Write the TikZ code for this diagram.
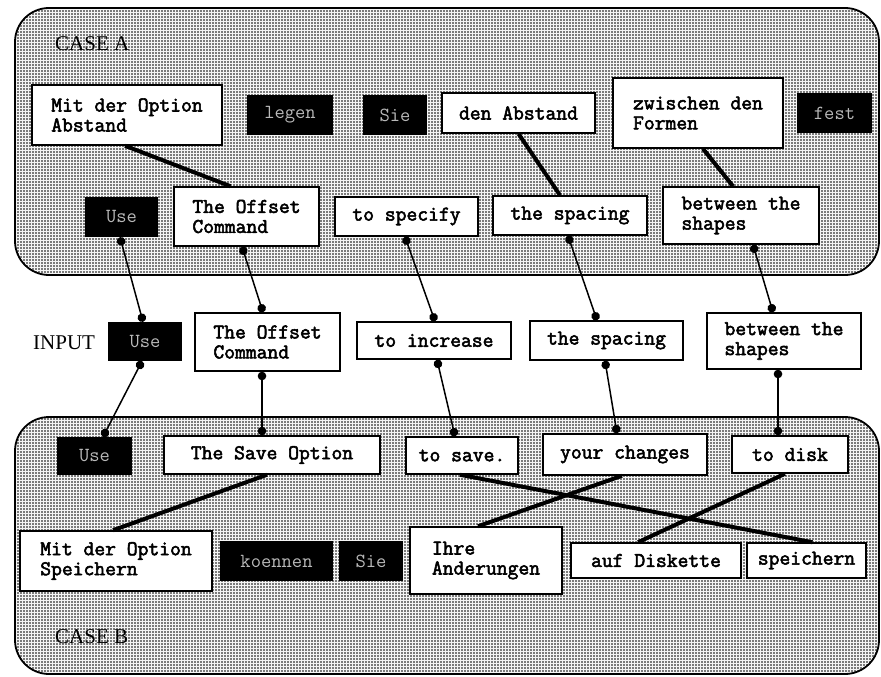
\documentclass[tikz,border=0pt]{standalone}
\usepackage{fontspec}
\setmainfont{Liberation Serif}
\newfontfamily\wtt{Latin Modern Mono}[FakeBold=2.6]
\newfontfamily\btt{Latin Modern Mono}
\usetikzlibrary{patterns,arrows.meta,calc}
\pgfdeclarepatternformonly{stipple}{\pgfqpoint{-1pt}{-1pt}}{\pgfqpoint{1pt}{1pt}}{\pgfqpoint{3pt}{3pt}}{%
  \pgfpathcircle{\pgfpointorigin}{0.8pt}\pgfusepath{fill}}
\tikzset{
  region/.style={draw=black,line width=1.8pt,rounded corners=34pt},
  wbox/.style={draw=black,line width=1.5pt,fill=white,align=left,inner sep=0pt,
     font=\wtt\fontsize{21}{20}\selectfont},
  bbox/.style={fill=black,text=gray!55,inner sep=0pt,
     font=\btt\fontsize{20}{20}\selectfont},
  lbl/.style={font=\fontsize{21}{24}\selectfont,inner sep=0pt,anchor=west},
  conn/.style={line width=1.5pt,{Circle[length=8.5pt,width=8.5pt]}-{Circle[length=8.5pt,width=8.5pt]}},
  tlink/.style={line width=4pt},
}
\newcommand{\bx}[6]{\node[#1,minimum width=#4pt,minimum height=#5pt] (#6) at (#2,#3)}
\begin{document}
\begin{tikzpicture}[x=1pt,y=-1pt]
\useasboundingbox (0,0) rectangle (881,677);
\fill[white] (0,0) rectangle (881,677);
% regions
\fill[gray!8,rounded corners=34pt] (15,8) rectangle (879,275);
\fill[pattern=stipple,pattern color=black,rounded corners=34pt] (15,8) rectangle (879,275);
\draw[region] (15,8) rectangle (879,275);
\fill[gray!8,rounded corners=34pt] (15,417) rectangle (879,674);
\fill[pattern=stipple,pattern color=black,rounded corners=34pt] (15,417) rectangle (879,674);
\draw[region] (15,417) rectangle (879,674);
% labels
\node[lbl] (caseA) at (55,44) {CASE A};
\node[lbl] (input) at (33,343) {INPUT};
\node[lbl] (caseB) at (55,637) {CASE B};
% case A row 1
\bx{wbox}{127}{115}{190}{60}{aMit} {Mit der Option\\Abstand};
\bx{bbox}{290}{115}{86}{40}{aLegen} {legen};
\bx{bbox}{395}{115}{64}{40}{aSie} {Sie};
\bx{wbox}{518.5}{113}{153}{40}{aDen} {den Abstand};
\bx{wbox}{698}{113}{170}{70}{aZw} {zwischen den\\Formen};
\bx{bbox}{834.5}{113}{75}{40}{aFest} {fest};
% case A row 2
\bx{bbox}{121.5}{217}{73}{40}{aUse} {Use};
\bx{wbox}{246.5}{216.5}{145}{59}{aOff} {The Offset\\Command};
\bx{wbox}{406.5}{216.5}{143}{39}{aSpec} {to specify};
\bx{wbox}{570}{215.5}{154}{39}{aSpac} {the spacing};
\bx{wbox}{741}{215.5}{156}{57}{aBetw} {between the\\shapes};
% input
\bx{bbox}{145}{341.5}{74}{39}{iUse} {Use};
\bx{wbox}{267.5}{342}{145}{58}{iOff} {The Offset\\Command};
\bx{wbox}{434}{340.5}{154}{37}{iInc} {to increase};
\bx{wbox}{606.5}{340.5}{153}{39}{iSpac} {the spacing};
\bx{wbox}{784}{341}{154}{56}{iBetw} {between the\\shapes};
% case B row 1
\bx{bbox}{94.5}{456}{75}{38}{bUse} {Use};
\bx{wbox}{272}{455}{216}{38}{bSave} {The Save Option};
\bx{wbox}{462}{455.5}{112}{37}{bToSave} {to save.};
\bx{wbox}{625}{454.5}{164}{41}{bYour} {your changes};
\bx{wbox}{790}{454.5}{116}{37}{bDisk} {to disk};
% case B row 2
\bx{wbox}{116}{561}{192}{60}{bMit} {Mit der Option\\Speichern};
\bx{bbox}{276.5}{561}{113}{40}{bKoen} {koennen};
\bx{bbox}{371}{561}{64}{40}{bSie} {Sie};
\bx{wbox}{486}{560.5}{152}{67}{bIhre} {Ihre\\Anderungen};
\bx{wbox}{656}{560.5}{170}{35}{bAuf} {auf Diskette};
\bx{wbox}{806.5}{560.5}{119}{35}{bSpe} {speichern};
% thick links
\draw[tlink] ([xshift=-2pt]aMit.south) -- ([xshift=-16pt]aOff.north);
\draw[tlink] (aDen.south) -- ([xshift=-10pt]aSpac.north);
\draw[tlink] ([xshift=5pt]aZw.south) -- ([xshift=-8pt]aBetw.north);
\draw[tlink] ([xshift=-5pt]bSave.south) -- ([xshift=-3pt]bMit.north);
\draw[tlink] ([xshift=-2pt]bToSave.south) -- ([xshift=6pt]bSpe.north);
\draw[tlink] ([xshift=-3pt]bYour.south) -- ([xshift=-8pt]bIhre.north);
\draw[tlink] ([xshift=-5pt]bDisk.south) -- ([xshift=-18pt]bAuf.north);
% thin connectors with dots
\draw[conn] ([xshift=-1.5pt]aUse.south) -- ([xshift=-2pt]iUse.north);
\draw[conn] ([xshift=-4.5pt]aOff.south) -- ([xshift=-4.5pt]iOff.north);
\draw[conn] ([xshift=-1.5pt]aSpec.south) -- ([xshift=1pt]iInc.north);
\draw[conn] ([xshift=-2pt]aSpac.south) -- ([xshift=-9.5pt]iSpac.north);
\draw[conn] ([xshift=12pt]aBetw.south) -- ([xshift=-11pt]iBetw.north);
\draw[conn] ([xshift=-3pt]iUse.south) -- ([xshift=8.5pt]bUse.north);
\draw[conn] ([xshift=-5.5pt]iOff.south) -- ([xshift=-10pt]bSave.north);
\draw[conn] ([xshift=3pt]iInc.south) -- ([xshift=-7pt]bToSave.north);
\draw[conn] ([xshift=-1.5pt]iSpac.south) -- ([xshift=-8pt]bYour.north);
\draw[conn] ([xshift=-6pt]iBetw.south) -- ([xshift=-12pt]bDisk.north);
\end{tikzpicture}
\end{document}
